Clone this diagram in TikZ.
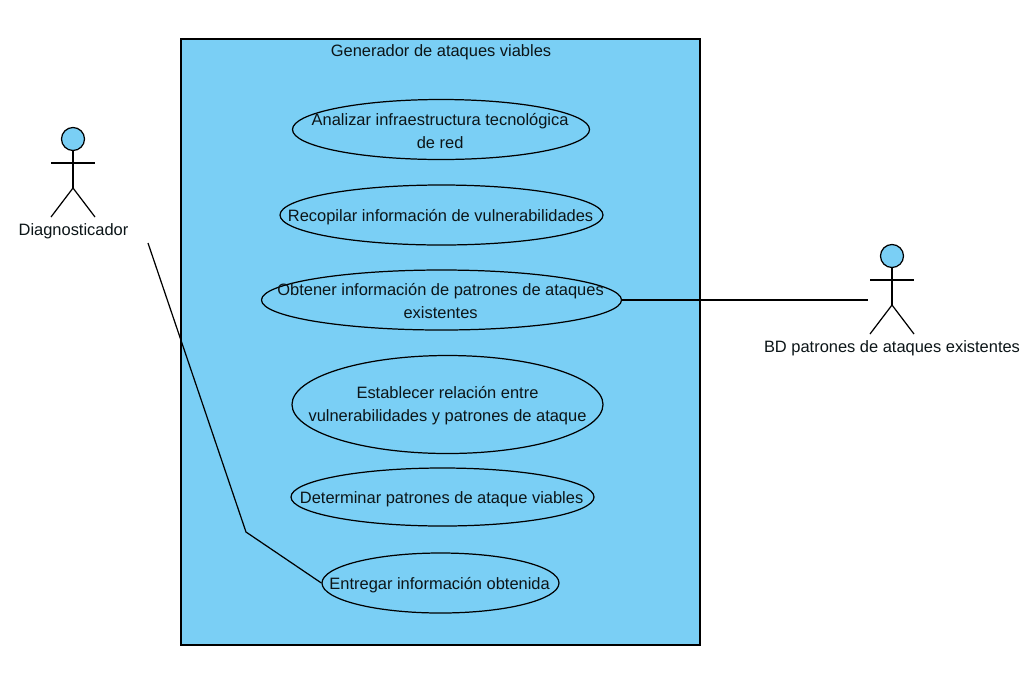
\documentclass[tikz,border=0pt]{standalone}
\usepackage{fontspec}
\setmainfont{Liberation Sans}
\usetikzlibrary{shapes.geometric}
\definecolor{ucblue}{RGB}{122,207,245}
\tikzset{
  usecase/.style={draw,ellipse,inner sep=0pt},
  actorlabel/.style={inner sep=0pt,anchor=center},
  every label/.style={align=center,yshift=-1pt,inner sep=0pt,xshift=-.5pt},
  twolines/.style={yshift=.2pt},
  link/.style={line width=.7pt}
}
\begin{document}
\begin{tikzpicture}[x=.02cm,y=-.02cm,line width=.7pt,
    every node/.style={font=\fontsize{9.36}{13}\selectfont,text=black!90!ucblue}]
    \useasboundingbox (0,0) rectangle (1031,691);
    \fill[white] (0,0) rectangle (1031,691);
    \draw[fill=ucblue] (181,39) rectangle (700,645);
    \node (title) at (441,52) {Generador de ataques viables};

    \node[usecase,minimum width=297*.02cm,minimum height=60*.02cm,
      label={[twolines]center:Analizar infraestructura tecnológica\\de red}] (infra) at (441,129.5) {};
    \node[usecase,minimum width=323*.02cm,minimum height=60*.02cm,
      label={center:Recopilar información de vulnerabilidades}] (vuln) at (441.5,215) {};
    \node[usecase,minimum width=360*.02cm,minimum height=60*.02cm,
      label={[twolines]center:Obtener información de patrones de ataques\\existentes}] (patron) at (441.5,300) {};
    \node[usecase,minimum width=311*.02cm,minimum height=98*.02cm,
      label={[twolines,xshift=.5pt]center:Establecer relación entre\\vulnerabilidades y patrones de ataque}] (relacion) at (447.5,404.5) {};
    \node[usecase,minimum width=303*.02cm,minimum height=58*.02cm,
      label={center:Determinar patrones de ataque viables}] (viables) at (442.5,497) {};
    \node[usecase,minimum width=237*.02cm,minimum height=60*.02cm,
      label={center:Entregar información obtenida}] (entrega) at (440.5,583) {};

    \foreach \actor/\i/\j in {diag/73/139,bd/892/256} {
      \draw[fill=ucblue] (\i,\j) circle(11.5);
      \draw (\i,\j+11.5) -- (\i,\j+49);
      \draw (\i-22,\j+24) -- (\i+22,\j+24);
      \draw (\i-22,\j+78) -- (\i,\j+49) -- (\i+22,\j+78);
    }
    \node[actorlabel] (diag) at (73.5,231.5) {Diagnosticador};
    \node[actorlabel] (bd) at (892,348.5) {BD patrones de ataques existentes};

    \coordinate (diagend) at (148,243);
    \coordinate (bend) at (246,532);
    \coordinate (bdend) at (868,300);
    \draw[link] (diagend) -- (bend) -- (entrega.west);
    \draw[link] (patron.east) -- (bdend);
\end{tikzpicture}
\end{document}
